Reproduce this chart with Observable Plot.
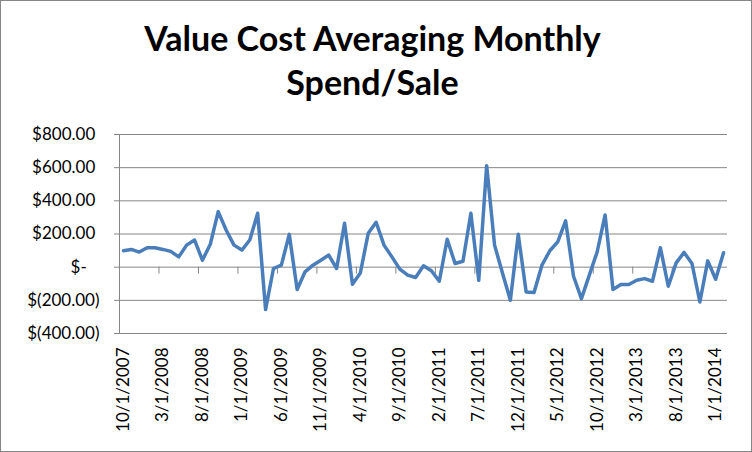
<!DOCTYPE html>
<html><head><meta charset="utf-8">
<script src="https://cdn.jsdelivr.net/npm/d3@7"></script>
<script src="https://cdn.jsdelivr.net/npm/@observablehq/plot@0.6"></script>
<style>
body{margin:0;background:#fff;}
#wrap{position:relative;width:752px;height:452px;overflow:hidden;background:#fff;}
#title{height:110px;box-sizing:border-box;padding-top:16px;padding-right:7px;font-family:Lato,sans-serif;font-weight:700;font-size:34px;line-height:44px;text-align:center;color:#000;}
#frame{position:absolute;left:0;top:0;width:752px;height:452px;box-sizing:border-box;border:1px solid #868686;pointer-events:none;}
svg{display:block;}
</style></head><body>
<div id="wrap">
<div id="title">Value Cost Averaging Monthly<br>Spend/Sale</div>
<div id="chart"></div>
<div id="frame"></div>
</div>
<script>
// Monthly categories: 10/1/2007 .. 2/1/2014
const firstMonth = [2007, 10];
const lastMonth = [2014, 2];
// Spend (+) / Sale (-) amounts in dollars, one per month
const values = [
  99, 107, 91, 117, 117, 107, 95, 62, 133, 164,
  42, 138, 335, 224, 133, 103, 164, 325, -256, -8,
  12, 198, -135, -28, 12, 42, 73, -8, 265, -103,
  -35, 204, 271, 133, 62, -12, -48, -62, 8, -22,
  -85, 168, 22, 36, 325, -79, 612, 133, -35, -200,
  198, -150, -153, 12, 99, 153, 279, -55, -190, -48,
  93, 315, -135, -105, -105, -79, -69, -85, 117, -115,
  26, 89, 22, -210, 38, -73, 87
];
const yTicks = [-400, -200, 0, 200, 400, 600, 800];
const xLabelEvery = 5;

const months = d3.utcMonth.range(
  new Date(Date.UTC(firstMonth[0], firstMonth[1] - 1, 1)),
  new Date(Date.UTC(lastMonth[0], lastMonth[1], 1))
);
const categories = months.map(d => `${d.getUTCMonth() + 1}/1/${d.getUTCFullYear()}`);
const data = values.map((v, i) => ({i, category: categories[i], value: v}));
const labelIdx = d3.range(0, categories.length, xLabelEvery);
const boundaries = labelIdx.slice(1).map(i => i - 0.5);

const num = d3.format(",.2f");
const money = d => d === 0 ? "$-\u2002\u2005" : d < 0 ? `$(${num(-d)})` : `$${num(d)}\u2005`;

const grey = "#868686";
const chart = Plot.plot({
  width: 752,
  height: 342,
  marginTop: 24,
  marginBottom: 119,
  marginLeft: 119,
  marginRight: 25,
  x: {type: "linear", domain: [-0.5, categories.length - 0.5], axis: null},
  y: {domain: [-400, 800], axis: null},
  style: {fontFamily: "Lato, sans-serif", fontSize: "17px", color: "#000", background: "#fff", overflow: "visible"},
  marks: [
    Plot.gridY(yTicks, {stroke: grey, strokeOpacity: 1, strokeWidth: 1}),
    Plot.ruleX([-0.5], {stroke: grey, strokeWidth: 1}),
    Plot.axisY(yTicks, {label: null, tickSize: 5, tickPadding: 15, tickFormat: money, stroke: grey, strokeOpacity: 1, fill: "#000", fontSize: 17}),
    Plot.ruleX(boundaries, {y1: 0, y2: -42, stroke: grey, strokeWidth: 1}),
    Plot.axisX(labelIdx, {label: null, anchor: "bottom", tickSize: 0, tickPadding: 14, tickRotate: -90, tickFormat: i => categories[i], fill: "#000", fontSize: 17}),
    Plot.line(data, {x: "i", y: "value", stroke: "#4a7ebb", strokeWidth: 3.5, strokeLinejoin: "round", strokeLinecap: "round"})
  ]
});
document.getElementById("chart").appendChild(chart);
</script>
</body></html>
